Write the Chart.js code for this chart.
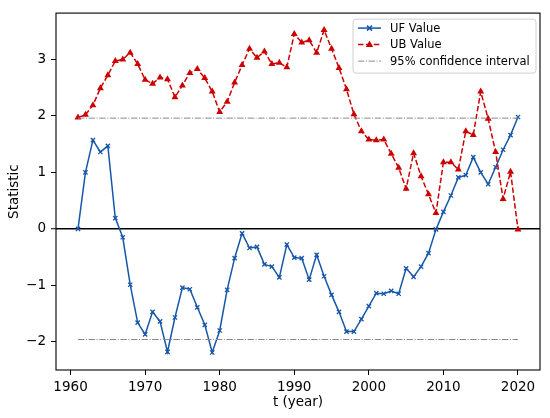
<!DOCTYPE html>
<html><head><meta charset="utf-8">
<script src="https://cdn.jsdelivr.net/npm/chart.js@4.4.1/dist/chart.umd.min.js"></script>
<style>html,body{margin:0;padding:0;background:#fff;}#wrap{width:550px;height:418px;position:relative;}</style>
</head><body><div id="wrap"><canvas id="c"></canvas></div>
<script>
const years = [1961,1962,1963,1964,1965,1966,1967,1968,1969,1970,1971,1972,1973,1974,1975,1976,1977,1978,1979,1980,
1981,1982,1983,1984,1985,1986,1987,1988,1989,1990,1991,1992,1993,1994,1995,1996,1997,1998,1999,2000,
2001,2002,2003,2004,2005,2006,2007,2008,2009,2010,2011,2012,2013,2014,2015,2016,2017,2018,2019,2020];
const ufValues = [0.00,1.00,1.57,1.36,1.47,0.19,-0.15,-0.99,-1.66,-1.87,-1.47,-1.64,-2.18,-1.57,-1.04,-1.07,-1.39,-1.70,-2.19,-1.80,
-1.08,-0.52,-0.08,-0.34,-0.32,-0.63,-0.67,-0.86,-0.28,-0.51,-0.52,-0.90,-0.46,-0.84,-1.17,-1.47,-1.82,-1.82,-1.60,-1.37,
-1.14,-1.15,-1.10,-1.15,-0.70,-0.85,-0.67,-0.43,-0.01,0.30,0.59,0.91,0.95,1.27,1.00,0.79,1.09,1.40,1.66,1.98];
const ubValues = [1.97,2.02,2.19,2.49,2.72,2.97,3.00,3.12,2.92,2.64,2.57,2.68,2.65,2.33,2.54,2.76,2.83,2.67,2.43,2.07,
2.25,2.59,2.90,3.19,3.03,3.14,2.92,2.94,2.86,3.45,3.30,3.34,3.12,3.52,3.19,2.85,2.47,2.03,1.73,1.58,
1.57,1.58,1.33,1.08,0.71,1.34,0.93,0.61,0.28,1.18,1.18,1.05,1.73,1.66,2.43,1.95,1.36,0.53,1.01,-0.01];
const ciYears = [1961, 2020];
const ciUpper = [1.96, 1.96];
const ciLower = [-1.96, -1.96];
const xTicks = [1960,1970,1980,1990,2000,2010,2020];
const yTicks = [-2,-1,0,1,2,3];
const labels = ["UF Value","UB Value","95% confidence interval"];

const BLUE = '#1757a8', RED = '#cc0000', GRAY = '#8a8a8a';
const DASHDOT = [6.4,1.6,1,1.6];
const DASHED = [5.5,2.4];

const pts = (xs, ys) => xs.map((x,i)=>({x:x, y:ys[i]}));
const FONT = "'DejaVu Sans', sans-serif";

const legendPlugin = {
  id:'mplLegend',
  afterDatasetsDraw(chart){
    const ctx = chart.ctx, a = chart.chartArea;
    ctx.save();
    ctx.strokeStyle = '#000'; ctx.lineWidth = 1.1;
    ctx.strokeRect(a.left, a.top, a.right-a.left, a.bottom-a.top);
    ctx.restore();
    const bx = a.right - 187, by = a.top + 6, bw = 183, bh = 54;
    ctx.save();
    ctx.beginPath();
    const r = 3;
    ctx.moveTo(bx+r,by); ctx.lineTo(bx+bw-r,by); ctx.quadraticCurveTo(bx+bw,by,bx+bw,by+r);
    ctx.lineTo(bx+bw,by+bh-r); ctx.quadraticCurveTo(bx+bw,by+bh,bx+bw-r,by+bh);
    ctx.lineTo(bx+r,by+bh); ctx.quadraticCurveTo(bx,by+bh,bx,by+bh-r);
    ctx.lineTo(bx,by+r); ctx.quadraticCurveTo(bx,by,bx+r,by); ctx.closePath();
    ctx.fillStyle = 'rgba(255,255,255,0.8)'; ctx.fill();
    ctx.strokeStyle = '#d0d0d0'; ctx.lineWidth = 1; ctx.stroke();
    const hx0 = bx+5, hx1 = bx+28, hc = (hx0+hx1)/2, tx = bx+37;
    const rows = [by+9, by+25.5, by+42];
    ctx.font = "11.5px " + FONT; ctx.fillStyle = '#000'; ctx.textBaseline = 'middle'; ctx.textAlign='left';
    ctx.strokeStyle = BLUE; ctx.lineWidth = 1.5; ctx.setLineDash([]);
    ctx.beginPath(); ctx.moveTo(hx0,rows[0]); ctx.lineTo(hx1,rows[0]); ctx.stroke();
    ctx.beginPath(); ctx.moveTo(hc-2.5,rows[0]-2.5); ctx.lineTo(hc+2.5,rows[0]+2.5);
    ctx.moveTo(hc-2.5,rows[0]+2.5); ctx.lineTo(hc+2.5,rows[0]-2.5); ctx.stroke();
    ctx.strokeStyle = RED; ctx.setLineDash(DASHED);
    ctx.beginPath(); ctx.moveTo(hx0,rows[1]); ctx.lineTo(hx1,rows[1]); ctx.stroke();
    ctx.setLineDash([]); ctx.fillStyle = RED;
    ctx.beginPath(); ctx.moveTo(hc,rows[1]-4); ctx.lineTo(hc+3.6,rows[1]+2.5); ctx.lineTo(hc-3.6,rows[1]+2.5); ctx.closePath(); ctx.fill();
    ctx.strokeStyle = GRAY; ctx.lineWidth = 1; ctx.setLineDash(DASHDOT);
    ctx.beginPath(); ctx.moveTo(hx0,rows[2]); ctx.lineTo(hx1,rows[2]); ctx.stroke();
    ctx.setLineDash([]);
    ctx.fillStyle = '#000';
    labels.forEach((t,i)=>ctx.fillText(t, tx, rows[i]+0.5));
    ctx.restore();
  }
};

Chart.defaults.font.family = FONT;
Chart.defaults.color = '#000';

new Chart(document.getElementById('c'), {
  type:'line',
  data:{
    datasets:[
      {label:labels[0], data:pts(years,ufValues), borderColor:BLUE, backgroundColor:BLUE, borderWidth:1.5,
       pointStyle:'crossRot', pointRadius:3, pointBorderWidth:1.3, pointBorderColor:BLUE, order:3},
      {label:labels[1], data:pts(years,ubValues), borderColor:RED, backgroundColor:RED, borderWidth:1.5, borderDash:DASHED,
       pointStyle:'triangle', pointRadius:4, pointBorderWidth:0, pointBackgroundColor:RED, order:2},
      {label:labels[2], data:pts(ciYears,ciUpper), borderColor:GRAY, borderWidth:1, borderDash:DASHDOT, pointRadius:0, order:1},
      {label:'', data:pts(ciYears,ciLower), borderColor:GRAY, borderWidth:1, borderDash:DASHDOT, pointRadius:0, order:1}
    ]
  },
  options:{
    responsive:true, maintainAspectRatio:false, animation:false,
    layout:{padding:{left:0,right:10,top:8,bottom:0}},
    plugins:{legend:{display:false}, tooltip:{enabled:false}},
    elements:{line:{tension:0}},
    scales:{
      x:{type:'linear', min:1958.05, max:2022.95,
         afterBuildTicks:s=>{s.ticks = xTicks.map(v=>({value:v}));},
         afterFit:s=>{s.height = 48;},
         grid:{drawOnChartArea:false, tickLength:5, tickColor:'#000', tickWidth:1},
         border:{display:false},
         ticks:{font:{size:13.5}, padding:4, maxRotation:0, callback:v=>String(v)},
         title:{display:true, text:'t (year)', font:{size:13.5}, padding:{top:0,bottom:7}}
      },
      y:{type:'linear', min:-2.5, max:3.82,
         afterBuildTicks:s=>{s.ticks = yTicks.map(v=>({value:v}));},
         afterFit:s=>{s.width = 56;},
         grid:{drawOnChartArea:true, tickLength:5, tickColor:'#000', tickWidth:1,
               color:c=> (c.tick && c.tick.value===0) ? '#000' : 'rgba(0,0,0,0)', lineWidth:c=>(c.tick && c.tick.value===0)?1.5:1},
         border:{display:false},
         ticks:{font:{size:13.5}, padding:5, callback:v=> (v<0 ? '\u2212'+Math.abs(v) : String(v))},
         title:{display:true, text:'Statistic', font:{size:13.5}, padding:{top:6,bottom:0}}
      }
    }
  },
  plugins:[legendPlugin]
});
</script></body></html>
